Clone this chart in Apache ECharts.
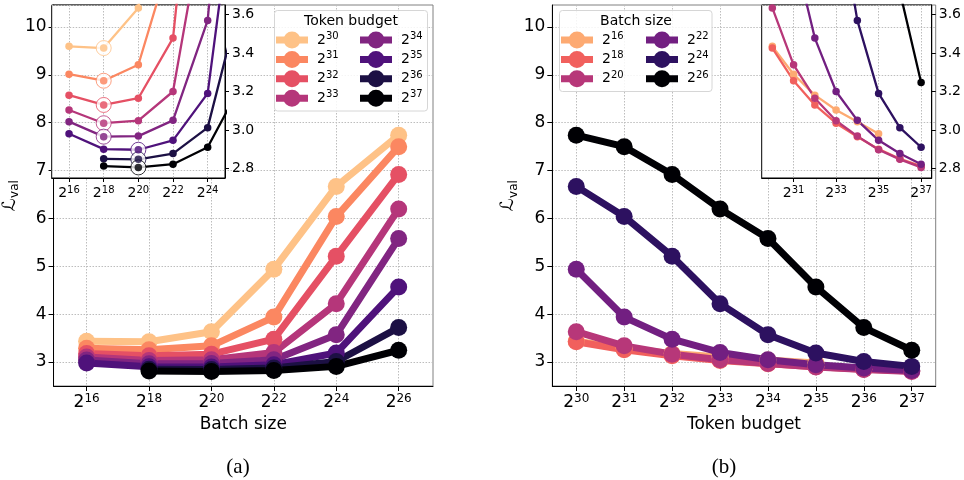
<!DOCTYPE html>
<html>
<head>
<meta charset="UTF-8">
<title>Loss vs batch size and token budget</title>
<script src="https://cdn.jsdelivr.net/npm/echarts@6/dist/echarts.min.js"></script>
</head>
<body style="margin:0;background:#fff">
<div id="chart" style="width:964px;height:480px;"></div>
<script>
// log2 of batch size and token budget
var batchExp = [16, 18, 20, 22, 24, 26];
var tokenExp = [30, 31, 32, 33, 34, 35, 36, 37];
// validation loss for each batch size, one value per token budget (null = no run)
var lossB16 = [3.435, 3.29, 3.181, 3.104, 3.043, 2.98, null, null];
var lossB18 = [3.426, 3.256, 3.13, 3.035, 2.965, 2.9, 2.85, 2.812];
var lossB20 = [3.635, 3.339, 3.165, 3.048, 2.968, 2.897, 2.847, 2.805];
var lossB22 = [4.94, 3.94, 3.478, 3.2, 3.05, 2.946, 2.877, 2.822];
var lossB24 = [6.67, 6.04, 5.21, 4.22, 3.57, 3.19, 3.012, 2.91];
var lossB26 = [7.74, 7.5, 6.92, 6.2, 5.58, 4.57, 3.72, 3.247];
var lossByBatch = [lossB16, lossB18, lossB20, lossB22, lossB24, lossB26];

// tick labels
var yTicksMain = [3, 4, 5, 6, 7, 8, 9, 10];
var yTicksInset = [2.8, 3.0, 3.2, 3.4, 3.6];
var batchTicksInset = [16, 18, 20, 22, 24];
var tokenTicksInset = [31, 33, 35, 37];

// magma colours
var tokenColors = ['#fec287', '#fb8761', '#e55064', '#b5367a', '#812581', '#4f127b', '#1c1044', '#000004'];
var batchColors = ['#fdaa72', '#f1605d', '#b73779', '#721f81', '#2d1160', '#000004'];

var FONT = 'DejaVu Sans';
function sup(e) { return '{b|2}{s|' + e + '}'; }
var richMain = {
  b: { fontSize: 17, lineHeight: 20, fontFamily: FONT, color: '#000' },
  s: { fontSize: 12, lineHeight: 14, verticalAlign: 'top', fontFamily: FONT, color: '#000' }
};
var richSmall = {
  b: { fontSize: 14, lineHeight: 17, fontFamily: FONT, color: '#000' },
  s: { fontSize: 10, lineHeight: 12, verticalAlign: 'top', fontFamily: FONT, color: '#000' }
};
var gridLine = { show: true, lineStyle: { color: '#bdbdbd', width: 1, type: [1.5, 1.5] } };

var chart = echarts.init(document.getElementById('chart'));

var series = [];
// left panel: one line per token budget, x = batch size
tokenExp.forEach(function (t, i) {
  var pts = [];
  batchExp.forEach(function (b, j) {
    if (lossByBatch[j][i] != null) pts.push([b, lossByBatch[j][i]]);
  });
  var c = tokenColors[i];
  series.push({
    name: 'T' + t, type: 'line', xAxisIndex: 0, yAxisIndex: 0, data: pts,
    symbol: 'circle', symbolSize: 17, color: c,
    lineStyle: { width: 7, color: c }, itemStyle: { color: c }, z: 2
  });
  series.push({
    name: 'T' + t, type: 'line', xAxisIndex: 1, yAxisIndex: 1, data: pts,
    symbol: 'circle', symbolSize: 7.5, color: c,
    lineStyle: { width: 2.3, color: c }, itemStyle: { color: c }, z: 7
  });
  // ring around the best batch size for this budget
  var best = null;
  pts.forEach(function (p) { if (!best || p[1] < best[1]) best = p; });
  series.push({
    type: 'scatter', xAxisIndex: 1, yAxisIndex: 1, data: [best], symbolSize: 15,
    itemStyle: { color: '#fff', borderColor: c, borderWidth: 1 }, z: 8
  });
  series.push({
    type: 'scatter', xAxisIndex: 1, yAxisIndex: 1, data: [best], symbolSize: 7.5,
    itemStyle: { color: c }, z: 9
  });
});
// right panel: one line per batch size, x = token budget
batchExp.forEach(function (b, j) {
  var pts = [];
  tokenExp.forEach(function (t, i) {
    if (lossByBatch[j][i] != null) pts.push([t, lossByBatch[j][i]]);
  });
  var c = batchColors[j];
  series.push({
    name: 'B' + b, type: 'line', xAxisIndex: 2, yAxisIndex: 3, data: pts,
    symbol: 'circle', symbolSize: 17, color: c,
    lineStyle: { width: 7, color: c }, itemStyle: { color: c }, z: 2
  });
  series.push({
    name: 'B' + b, type: 'line', xAxisIndex: 3, yAxisIndex: 4, data: pts,
    symbol: 'circle', symbolSize: 7.5, color: c,
    lineStyle: { width: 2.3, color: c }, itemStyle: { color: c }, z: 7
  });
});

function mainX(gi, min, max, split, ticks, name) {
  return {
    type: 'value', gridIndex: gi, min: min, max: max, splitNumber: split,
    axisLine: { show: true, lineStyle: { color: '#000', width: 1 } },
    axisTick: { show: true, length: 5, customValues: ticks, lineStyle: { color: '#000' } },
    axisLabel: { customValues: ticks, formatter: sup, rich: richMain, margin: 7 },
    splitLine: gridLine,
    name: name, nameLocation: 'middle', nameGap: 27,
    nameTextStyle: { fontSize: 17, fontFamily: FONT, color: '#000' }, z: 1
  };
}
function insetX(gi, min, max, split, ticks) {
  return {
    type: 'value', gridIndex: gi, min: min, max: max, splitNumber: split,
    axisLine: { show: true, lineStyle: { color: '#000', width: 1 } },
    axisTick: { show: true, length: 4, customValues: ticks, lineStyle: { color: '#000' } },
    axisLabel: { customValues: ticks, formatter: sup, rich: richSmall, margin: 7 },
    splitLine: gridLine, z: 6
  };
}
function mainY(gi) {
  return {
    type: 'value', gridIndex: gi, min: 2.5, max: 10.46, splitNumber: 8,
    axisLine: { show: true, lineStyle: { color: '#000', width: 1 } },
    axisTick: { show: true, length: 5, customValues: yTicksMain, lineStyle: { color: '#000' } },
    axisLabel: { customValues: yTicksMain, fontSize: 17, fontFamily: FONT, color: '#000', margin: 7 },
    splitLine: gridLine,
    name: '{l|ℒ}{v|val}', nameLocation: 'middle', nameGap: 28, nameRotate: 90,
    nameTextStyle: {
      rich: {
        l: { fontSize: 18, lineHeight: 22, fontFamily: FONT, color: '#000' },
        v: { fontSize: 12, lineHeight: 12, verticalAlign: 'bottom', fontFamily: FONT, color: '#000' }
      }
    }, z: 1
  };
}
function insetY(gi) {
  return {
    type: 'value', gridIndex: gi, min: 2.75, max: 3.65, position: 'right',
    axisLine: { show: true, lineStyle: { color: '#000', width: 1 } },
    axisTick: { show: true, length: 4, customValues: yTicksInset, lineStyle: { color: '#000' } },
    axisLabel: {
      customValues: yTicksInset, fontSize: 14, fontFamily: FONT, color: '#000', margin: 7,
      formatter: function (v) { return v.toFixed(1); }
    },
    splitLine: { show: false }, z: 6
  };
}
// helper axis in the inset that repeats the main plot's horizontal grid lines
function insetGridY(gi) {
  return {
    type: 'value', gridIndex: gi, min: 6.845, max: 10.46, splitNumber: 4,
    axisLine: { show: false }, axisTick: { show: false }, axisLabel: { show: false },
    splitLine: gridLine, z: 6
  };
}

function legendCol(left, names) {
  return {
    orient: 'vertical', left: left, top: 31.5, data: names, z: 5,
    icon: 'path://M0 5H32V12H0Z M24.5 8.5A8.5 8.5 0 1 1 7.5 8.5A8.5 8.5 0 1 1 24.5 8.5Z',
    itemWidth: 32, itemHeight: 17, itemGap: 2.4, padding: 0,
    itemStyle: { borderWidth: 0 },
    formatter: function (n) { return sup(n.slice(1)); },
    textStyle: { rich: richSmall, padding: [0, 0, 0, 4] },
    selectedMode: false
  };
}

chart.setOption({
  animation: false,
  backgroundColor: '#fff',
  grid: [
    { left: 50, top: 5, width: 383, height: 381, show: true, borderColor: '#808080', borderWidth: 1, backgroundColor: 'transparent', z: 0 },
    { left: 51.7, top: 5, width: 173.3, height: 173, show: true, borderColor: '#000', borderWidth: 1, backgroundColor: '#fff', z: 5 },
    { left: 552.3, top: 5, width: 383.4, height: 381, show: true, borderColor: '#808080', borderWidth: 1, backgroundColor: 'transparent', z: 0 },
    { left: 761.7, top: 5, width: 172.6, height: 173, show: true, borderColor: '#000', borderWidth: 1, backgroundColor: '#fff', z: 5 }
  ],
  xAxis: [
    mainX(0, 14.94, 27.1, 6, batchExp, 'Batch size'),
    insetX(1, 15, 25, 5, batchTicksInset),
    mainX(2, 29.5, 37.5, 8, tokenExp, 'Token budget'),
    insetX(3, 29.5, 37.5, 8, tokenTicksInset)
  ],
  yAxis: [
    mainY(0), insetY(1), insetGridY(1),
    mainY(2), insetY(3), insetGridY(3)
  ],
  legend: [
    legendCol(276, ['T30', 'T31', 'T32', 'T33']),
    legendCol(360, ['T34', 'T35', 'T36', 'T37']),
    legendCol(561, ['B16', 'B18', 'B20']),
    legendCol(646, ['B22', 'B24', 'B26'])
  ],
  graphic: [
    { type: 'rect', z: 3, shape: { x: 274.5, y: 10.5, width: 153, height: 100.5, r: 3 },
      style: { fill: 'rgba(255,255,255,0.85)', stroke: '#d6d6d6', lineWidth: 1 } },
    { type: 'rect', z: 3, shape: { x: 559.5, y: 10.5, width: 152.5, height: 81, r: 3 },
      style: { fill: 'rgba(255,255,255,0.85)', stroke: '#d6d6d6', lineWidth: 1 } },
    { type: 'text', z: 6, x: 351, y: 21,
      style: { text: 'Token budget', font: '14px "DejaVu Sans"', fill: '#000', align: 'center', verticalAlign: 'middle' } },
    { type: 'text', z: 6, x: 636, y: 21,
      style: { text: 'Batch size', font: '14px "DejaVu Sans"', fill: '#000', align: 'center', verticalAlign: 'middle' } },
    { type: 'text', x: 238, y: 467,
      style: { text: '(a)', font: '21px "Liberation Serif"', fill: '#000', align: 'center', verticalAlign: 'middle' } },
    { type: 'text', x: 724, y: 467,
      style: { text: '(b)', font: '21px "Liberation Serif"', fill: '#000', align: 'center', verticalAlign: 'middle' } }
  ],
  series: series
});
</script>
</body>
</html>
